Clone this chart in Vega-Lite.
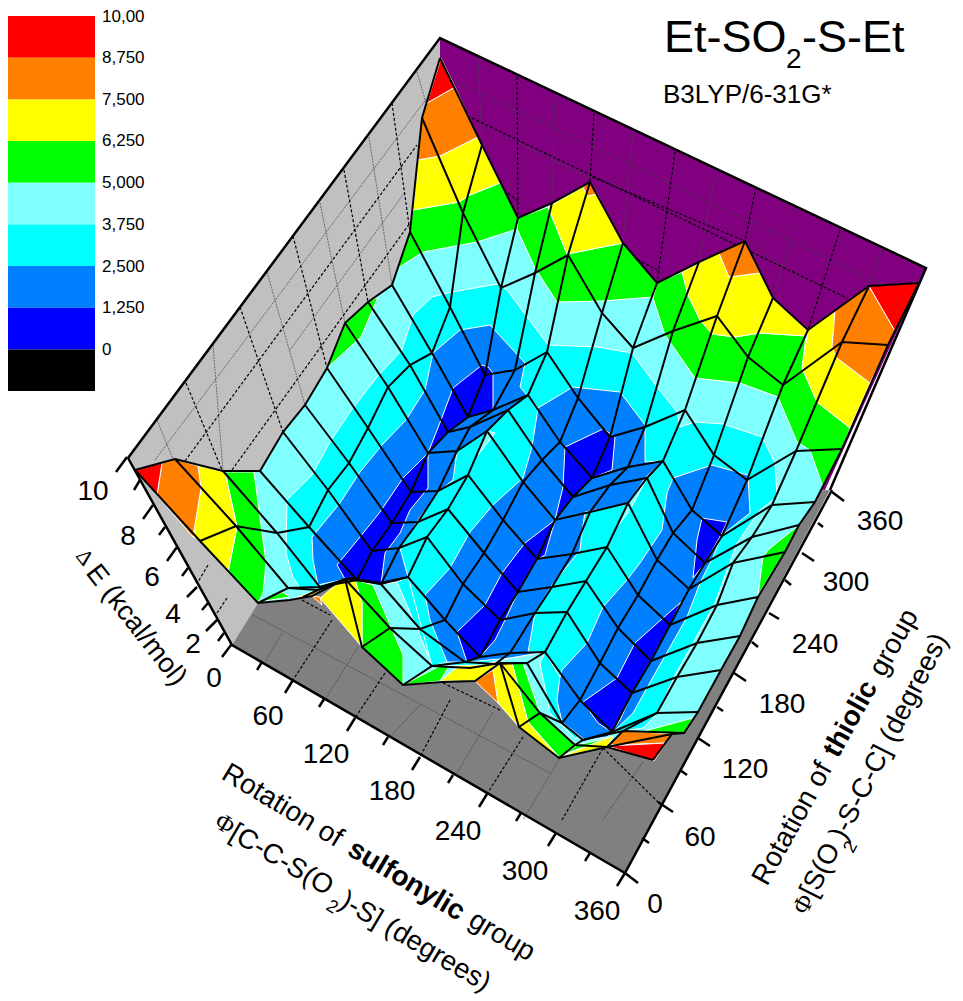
{"$schema":"https://vega.github.io/schema/vega-lite/v6.json","width":963,"height":1001,"padding":0,"autosize":{"type":"none"},"background":"white","config":{"view":{"stroke":null}},
"datasets":{
"walls":[
{"p":"left","b":"w1","x":[128,440,445,258,232],"y":[458,38,250,603,645]},
{"p":"back","b":"w2","x":[440,926,825,600,440],"y":[38,268,490,500,200]},
{"p":"floor","b":"w3","x":[232,625,830,600,258],"y":[645,873,490,500,603]}],
"dash":[
{"k":"a","x":[186,222],"y":[383,470]},{"k":"b","x":[240,283],"y":[307,432]},{"k":"c","x":[293,327],"y":[236,368]},{"k":"d","x":[344,368],"y":[170,302]},{"k":"e","x":[392,410],"y":[103,232]},
{"k":"f","x":[185,417],"y":[461,145]},{"k":"g","x":[232,410],"y":[470,223]},
{"k":"h","x":[517,518],"y":[77,218]},{"k":"i","x":[594,590],"y":[113,182]},{"k":"j","x":[675,657],"y":[152,283]},{"k":"l","x":[756,745],"y":[187,241]},{"k":"m","x":[840,808],"y":[230,330]},
{"k":"n","x":[472,847],"y":[118,298]},{"k":"o","x":[592,745],"y":[177,241]},{"k":"q","x":[508,520],"y":[193,203]},{"k":"r","x":[633,657],"y":[257,270]},
{"k":"s","x":[332,293],"y":[620,680]},{"k":"t","x":[385,355],"y":[673,718]},{"k":"u","x":[450,420],"y":[700,757]},{"k":"v","x":[523,487],"y":[737,794]},{"k":"w","x":[603,562],"y":[748,820]},{"k":"z","x":[302,330],"y":[600,615]},{"k":"aa","x":[443,500],"y":[683,710]},{"k":"ab","x":[603,658],"y":[748,802]},
{"k":"ac","x":[208,198],"y":[565,582]},{"k":"ad","x":[227,217],"y":[598,613]}],
"thin":[
{"k":"a","x":[157,173],"y":[420,459]},{"k":"b","x":[213,223],"y":[345,471]},{"k":"c","x":[267,305],"y":[272,405]},{"k":"d","x":[320,345],"y":[203,323]},{"k":"e","x":[369,392],"y":[137,285]},{"k":"f","x":[417,428],"y":[72,110]},{"k":"g","x":[155,427],"y":[460,98]},{"k":"h","x":[290,405],"y":[350,192]},
{"k":"i","x":[478,482],"y":[58,145]},{"k":"j","x":[555,552],"y":[95,203]},{"k":"l","x":[633,623],"y":[133,243]},{"k":"m","x":[715,699],"y":[175,262]},{"k":"n","x":[793,773],"y":[230,298]},{"k":"o","x":[882,869],"y":[248,286]},{"k":"q","x":[453,890],"y":[80,288]},{"k":"r","x":[518,590],"y":[143,178]},{"k":"s","x":[748,808],"y":[242,283]},
{"k":"t","x":[282,265],"y":[633,662]},{"k":"u","x":[358,323],"y":[647,703]},{"k":"v","x":[420,390],"y":[705,737]},{"k":"w","x":[493,457],"y":[712,773]},{"k":"z","x":[560,523],"y":[758,820]},{"k":"aa","x":[643,603],"y":[762,820]},{"k":"ab","x":[253,550],"y":[615,773]}],
"frame":[
{"k":"top","x":[128,440,926,830],"y":[458,38,268,490]},
{"k":"base","x":[128,232,625,832],"y":[458,645,873,490]}],
"ticks":[
{"x":127,"y":457,"x2":116,"y2":472},{"x":140,"y":480,"x2":134,"y2":490},{"x":153,"y":505,"x2":143,"y2":519},{"x":165,"y":527,"x2":159,"y2":535},{"x":177,"y":547,"x2":167,"y2":561},{"x":188,"y":568,"x2":182,"y2":576},{"x":197,"y":587,"x2":187,"y2":597},{"x":208,"y":603,"x2":202,"y2":610},{"x":217,"y":620,"x2":206,"y2":631},{"x":224,"y":633,"x2":218,"y2":641},{"x":231,"y":645,"x2":222,"y2":657},
{"x":262,"y":662,"x2":257,"y2":670},{"x":293,"y":680,"x2":285,"y2":693},{"x":324,"y":699,"x2":319,"y2":707},{"x":355,"y":718,"x2":347,"y2":731},{"x":388,"y":737,"x2":383,"y2":745},{"x":420,"y":757,"x2":412,"y2":770},{"x":453,"y":775,"x2":448,"y2":783},{"x":487,"y":794,"x2":479,"y2":807},{"x":521,"y":813,"x2":516,"y2":821},{"x":556,"y":833,"x2":548,"y2":846},{"x":590,"y":853,"x2":585,"y2":861},{"x":625,"y":873,"x2":617,"y2":886},
{"x":625,"y":873,"x2":638,"y2":883},{"x":642,"y":838,"x2":649,"y2":843},{"x":658,"y":802,"x2":673,"y2":812},{"x":680,"y":770,"x2":687,"y2":775},{"x":698,"y":738,"x2":710,"y2":746},{"x":717,"y":707,"x2":723,"y2":711},{"x":734,"y":673,"x2":746,"y2":681},{"x":752,"y":642,"x2":758,"y2":647},{"x":769,"y":613,"x2":779,"y2":619},{"x":785,"y":580,"x2":791,"y2":585},{"x":802,"y":553,"x2":814,"y2":561},{"x":818,"y":523,"x2":823,"y2":527},{"x":832,"y":492,"x2":844,"y2":501}],
"regions":[
{"p":"base","b":"b4","x":[135,175,223,260,283,305,327,345,368,392,410,422,440,482,518,552,590,623,657,699,745,773,808,869,919,888,842,815,799,785,758,740,721,698,684,672,653,607,559,519,500,475,442,403,362,345,312,290,258,200],"y":[470,459,471,471,432,405,368,323,302,285,232,118,58,145,218,203,182,243,283,262,241,298,330,286,283,345,449,502,525,552,597,636,670,712,733,734,760,747,758,727,663,681,682,685,647,579,596,600,603,541]},
{"p":"g1","b":"g","x":[413,459,470,500,518,517,477,423,398,410,413],"y":[210,202,195,183,218,229,242,252,268,232,210]},
{"p":"g2","b":"g","x":[518,548,567,623,657,653,602,557,535,517,518],"y":[218,207,254,243,284,297,301,302,268,229,218]},
{"p":"g3","b":"g","x":[657,682,688,700,712,735,760,806,802,817,850,842,823,810,797,778,740,695,665,653,657],"y":[283,272,295,320,334,337,333,336,368,402,428,449,487,450,442,397,383,378,335,298,283]},
{"p":"g5","b":"g","x":[799,768,763,758,785,799],"y":[525,550,557,595,552,525]},
{"p":"g6","b":"g","x":[645,693,684,668,645],"y":[731,718,733,733,731]},
{"p":"g7","b":"g","x":[345,327,361,378,368,345],"y":[323,368,337,297,302,323]},
{"p":"g8","b":"g","x":[355,373,403,403,362,362,355],"y":[580,585,655,685,647,603,580]},
{"p":"g9","b":"g","x":[225,254,266,263,258,228,237,225],"y":[472,472,563,593,603,572,527,472]},
{"p":"g10","b":"g","x":[258,283,290,258],"y":[602,592,597,602]},
{"p":"g11","b":"g","x":[403,438,450,440,403],"y":[685,667,665,681,685]},
{"p":"g12","b":"g","x":[512,523,540,577,560,528,512],"y":[663,663,713,745,758,722,663]},
{"p":"g13","b":"g","x":[560,577,612,570,560],"y":[757,745,737,752,757]},
{"p":"y1","b":"y","x":[418,440,478,500,470,459,413,418],"y":[160,156,137,183,195,202,210,160]},
{"p":"y2","b":"y","x":[548,583,587,597,623,567,548],"y":[207,187,196,194,243,254,207]},
{"p":"y3","b":"y","x":[682,719,729,760,773,807,806,760,735,712,700,688,682],"y":[272,253,277,273,298,330,336,333,337,334,320,295,272]},
{"p":"y4","b":"y","x":[808,835,832,837,870,850,817,802,808],"y":[330,311,347,358,383,428,402,368,330]},
{"p":"y5","b":"y","x":[198,225,237,228,200,193,201,198],"y":[466,472,527,572,540,537,488,466]},
{"p":"y6","b":"y","x":[343,355,362,362,320,343],"y":[579,580,603,647,598,579]},
{"p":"y7","b":"y","x":[292,325,312,292],"y":[599,587,596,599]},
{"p":"y8","b":"y","x":[440,460,499,475,440],"y":[681,665,662,681,681]},
{"p":"y9","b":"y","x":[500,512,528,559,519,498,493,500],"y":[662,663,722,758,727,703,670,662]},
{"p":"y10","b":"y","x":[560,613,607,560],"y":[757,736,747,757]},
{"p":"o1","b":"o","x":[427,455,478,440,418,422,427],"y":[103,87,137,156,160,118,103]},
{"p":"o2","b":"o","x":[583,590,597,587,583],"y":[187,182,194,196,187]},
{"p":"o3","b":"o","x":[719,745,760,729,719],"y":[253,241,273,277,253]},
{"p":"o4","b":"o","x":[835,869,895,870,837,832,835],"y":[311,286,331,383,358,347,311]},
{"p":"o5","b":"o","x":[162,175,198,201,193,157,162],"y":[463,459,466,488,537,495,463]},
{"p":"o6","b":"o","x":[312,320,322,312],"y":[596,597,605,596]},
{"p":"o7","b":"o","x":[475,493,498,475],"y":[681,670,703,681]},
{"p":"o8","b":"o","x":[623,672,666,608,623],"y":[731,734,743,745,731]},
{"p":"r1","b":"r","x":[441,455,427,441],"y":[58,87,103,58]},
{"p":"r2","b":"r","x":[869,919,895,869],"y":[286,283,331,286]},
{"p":"r3","b":"r","x":[135,162,157,135],"y":[470,463,495,470]},
{"p":"r4","b":"r","x":[608,666,654,608],"y":[746,743,761,746]},
{"p":"c","b":"b3","x":[287,312,330,350,377,402,413,432,452,498,507,527,548,597,632,657,677,680,695,723,762,775,777,760,737,730,715,693,675,658,643,623,612,590,575,550,540,545,500,480,433,397,381,345,325,300,293,286,287],"y":[500,475,442,412,377,350,315,297,292,284,290,317,345,347,353,387,412,427,422,424,437,463,497,510,543,562,603,643,675,713,728,731,732,738,738,713,663,652,660,665,666,582,584,579,587,588,577,553,500]},
{"p":"bl","b":"b2","x":[312,340,360,382,406,425,433,460,490,513,525,520,538,573,620,645,645,663,673,712,748,750,722,713,700,687,670,653,633,612,607,585,562,557,560,545,510,467,447,408,397,381,345,318,313,312],"y":[537,503,472,445,420,390,353,330,325,350,363,387,408,387,392,425,462,461,478,465,475,513,535,557,583,617,647,677,713,733,737,740,722,700,677,652,658,662,662,577,582,584,579,585,560,537]},
{"p":"i1","b":"b3","x":[528,538,532,523,493,470,450,425,430,447,432,408,400,420,438,453,457,487,508,528],"y":[395,408,447,478,505,532,568,595,620,662,666,577,548,517,492,480,451,431,410,395]},
{"p":"i2","b":"b3","x":[585,628,645,663,673,667,662,640,627,603,587,562,560,545,528,535,552,580,583,585],"y":[512,504,478,461,478,493,530,563,580,607,643,670,677,652,652,613,585,550,525,512]},
{"p":"l1","b":"b4","x":[487,495,478,487],"y":[431,433,455,431]},
{"p":"l2","b":"b4","x":[628,647,630,617,628],"y":[503,478,510,527,503]},
{"p":"d1","b":"b1","x":[337,360,380,403,428,428,410,400,385,381,345,337],"y":[565,537,512,478,453,488,510,533,553,584,579,565]},
{"p":"d2","b":"b1","x":[482,488,493,493,468,448,428,441,453,482],"y":[365,367,373,410,417,432,453,420,388,365]},
{"p":"d3","b":"b1","x":[565,603,615,612,592,573,555,563,565],"y":[447,429,437,470,478,497,520,487,447]},
{"p":"d4","b":"b1","x":[555,525,502,485,457,467,480,495,505,518,537,545,555],"y":[520,543,573,605,632,662,657,640,620,592,560,555,520]},
{"p":"d5","b":"b1","x":[583,617,635,663,681,670,650,632,620,612,598,583],"y":[702,678,643,618,602,625,662,693,720,732,723,702]},
{"p":"d6","b":"b1","x":[702,727,722,705,693,697,702],"y":[518,522,533,563,578,540,518]}],
"mesh":[
{"k":"s0","x":[135,175,223,260,283,305,327,345,368,392,410,422,440],"y":[470,459,471,471,432,405,368,323,302,285,232,118,58]},
{"k":"s30","x":[200,236,277,309,328,349,368,388,410,432,450,463,482],"y":[541,526,533,527,490,463,428,387,365,353,307,213,145]},
{"k":"s60","x":[258,288,320,357,372,392,411,428,448,468,485,501,518],"y":[603,588,587,580,551,523,492,453,432,417,375,288,218]},
{"k":"s90","x":[303,318,350,381,399,418,438,457,470,493,515,535,552],"y":[597,590,578,584,548,522,491,451,427,410,370,273,203]},
{"k":"s120","x":[345,380,408,427,448,468,487,508,528,547,568,590],"y":[579,583,577,537,509,475,431,410,395,352,255,182]},
{"k":"s150","x":[362,390,420,445,463,484,503,523,542,560,578,602,623],"y":[647,628,629,620,584,553,520,482,460,442,398,313,243]},
{"k":"s180","x":[403,432,465,480,500,518,537,555,573,592,610,633,657],"y":[685,666,662,657,620,592,559,520,497,478,437,348,283]},
{"k":"s210","x":[495,510,535,552,572,590,610,628,645,673,699],"y":[664,653,613,587,554,512,485,467,427,331,262]},
{"k":"s240","x":[500,527,545,567,586,607,628,647,663,685,717,745],"y":[663,663,652,612,581,547,503,478,461,410,316,241]},
{"k":"s270","x":[519,540,562,580,600,618,638,657,673,692,714,748,773],"y":[727,713,723,700,663,628,595,560,533,510,455,357,298]},
{"k":"s300","x":[559,575,583,612,632,651,670,689,705,722,747,783,808],"y":[758,745,740,732,693,661,625,589,563,536,480,385,330]},
{"k":"s330","x":[607,623,657,677,697,717,733,752,772,796,842,869],"y":[747,731,713,677,643,605,563,537,505,451,342,286]},
{"k":"s360","x":[653,672,684,698,721,740,758,785,799,815,842,888,919],"y":[760,734,733,712,670,636,597,552,525,502,449,345,283]},
{"k":"t0","x":[135,200,258,290,312,345,362,403,442,475,500,519,559,607,653],"y":[470,541,603,600,596,579,647,685,682,681,663,727,758,747,760]},
{"k":"t30","x":[175,236,288,318,345,390,432,470,500,540,575,607,672],"y":[459,526,588,590,579,628,666,668,663,713,745,747,734]},
{"k":"t60","x":[223,277,320,350,380,420,465,495,527,562,583,623,684],"y":[471,533,587,578,583,629,662,664,663,723,740,731,733]},
{"k":"t90","x":[260,309,357,381,408,445,480,510,545,580,612,657,698],"y":[471,527,580,584,577,620,657,653,652,700,732,713,712]},
{"k":"t120","x":[283,328,372,399,427,463,500,535,567,600,632,677,721],"y":[432,490,551,548,537,584,620,613,612,663,693,677,670]},
{"k":"t150","x":[305,349,392,418,448,484,518,552,586,618,651,697,740],"y":[405,463,523,522,509,553,592,587,581,628,661,643,636]},
{"k":"t180","x":[327,368,411,438,468,503,537,572,607,638,670,717,758],"y":[368,428,492,491,475,520,559,554,547,595,625,605,597]},
{"k":"t210","x":[345,388,428,457,487,523,555,590,628,657,689,733,785],"y":[323,387,453,451,431,482,520,512,503,560,589,563,552]},
{"k":"t240","x":[368,410,448,470,508,542,573,610,647,673,705,752,799],"y":[302,365,432,427,410,460,497,485,478,533,563,537,525]},
{"k":"t270","x":[392,432,468,493,528,560,592,628,663,692,722,772,815],"y":[285,353,417,410,395,442,478,467,461,510,536,505,502]},
{"k":"t300","x":[410,450,485,515,547,578,610,645,685,714,747,796,842],"y":[232,307,375,370,352,398,437,427,410,455,480,451,449]},
{"k":"t330","x":[422,463,501,535,568,602,633,673,717,748,783,842,888],"y":[118,213,288,273,255,313,348,331,316,357,385,342,345]},
{"k":"t360","x":[440,482,518,552,590,623,657,699,745,773,808,869,919],"y":[58,145,218,203,182,243,283,262,241,298,330,286,283]}],
"legend":[
{"b":"r","x":8,"x2":95,"y":16,"y2":57.7},{"b":"o","x":8,"x2":95,"y":57.7,"y2":99.4},{"b":"y","x":8,"x2":95,"y":99.4,"y2":141},{"b":"g","x":8,"x2":95,"y":141,"y2":182.8},{"b":"b4","x":8,"x2":95,"y":182.8,"y2":224.5},{"b":"b3","x":8,"x2":95,"y":224.5,"y2":266},{"b":"b2","x":8,"x2":95,"y":266,"y2":307.8},{"b":"b1","x":8,"x2":95,"y":307.8,"y2":349.6},{"b":"k","x":8,"x2":95,"y":349.6,"y2":391}]
},
"encoding":{"x":{"field":"x","type":"quantitative","scale":{"domain":[0,963],"nice":false,"zero":false},"axis":null},"y":{"field":"y","type":"quantitative","scale":{"domain":[1001,0],"nice":false,"zero":false},"axis":null}},
"layer":[
{"data":{"name":"walls"},"transform":[{"flatten":["x","y"]}],"mark":{"type":"line","filled":true,"clip":false,"strokeWidth":0},"encoding":{"order":{"value":null},"detail":{"field":"p"},"color":{"field":"b","type":"nominal","legend":null,"scale":{"domain":["k","b1","b2","b3","b4","g","y","o","r","w1","w2","w3"],"range":["#000000","#0000FF","#0080FF","#00FFFF","#80FFFF","#00FF00","#FFFF00","#FF8000","#FF0000","#C0C0C0","#800080","#808080"]}}}},
{"data":{"name":"thin"},"transform":[{"flatten":["x","y"]}],"mark":{"type":"line","stroke":"#444444","strokeWidth":0.7,"strokeDash":[2,1]},"encoding":{"order":{"value":null},"detail":{"field":"k"}}},
{"data":{"name":"dash"},"transform":[{"flatten":["x","y"]}],"mark":{"type":"line","stroke":"#000000","strokeWidth":1.2,"strokeDash":[3,2]},"encoding":{"order":{"value":null},"detail":{"field":"k"}}},
{"data":{"name":"frame"},"transform":[{"flatten":["x","y"]}],"mark":{"type":"line","stroke":"#000000","strokeWidth":2.5},"encoding":{"order":{"value":null},"detail":{"field":"k"}}},
{"data":{"name":"ticks"},"mark":{"type":"rule","stroke":"#000000","strokeWidth":2.5},"encoding":{"x2":{"field":"x2"},"y2":{"field":"y2"}}},
{"data":{"name":"regions"},"transform":[{"flatten":["x","y"]}],"mark":{"type":"line","filled":true,"stroke":"white","strokeWidth":1},"encoding":{"order":{"value":null},"detail":{"field":"p"},"color":{"field":"b","type":"nominal","legend":null}}},
{"data":{"name":"mesh"},"transform":[{"flatten":["x","y"]}],"mark":{"type":"line","stroke":"#000000","strokeWidth":2},"encoding":{"order":{"value":null},"detail":{"field":"k"}}},
{"data":{"name":"legend"},"mark":{"type":"rect"},"encoding":{"x2":{"field":"x2"},"y2":{"field":"y2"},"color":{"field":"b","type":"nominal","legend":null}}},
{"data":{"values":[{"x":102,"y":17,"t":"10,00"},{"x":102,"y":58,"t":"8,750"},{"x":102,"y":100,"t":"7,500"},{"x":102,"y":141,"t":"6,250"},{"x":102,"y":183,"t":"5,000"},{"x":102,"y":225,"t":"3,750"},{"x":102,"y":267,"t":"2,500"},{"x":102,"y":308,"t":"1,250"},{"x":102,"y":350,"t":"0"}]},"mark":{"type":"text","font":"Liberation Sans","fontSize":17,"align":"left","baseline":"middle","color":"black"},"encoding":{"text":{"field":"t"}}},
{"data":{"values":[{"x":93,"y":492,"t":"10"},{"x":128,"y":537,"t":"8"},{"x":152,"y":578,"t":"6"},{"x":173,"y":615,"t":"4"},{"x":193,"y":645,"t":"2"},{"x":214,"y":679,"t":"0"},{"x":268,"y":717,"t":"60"},{"x":326,"y":755,"t":"120"},{"x":392,"y":792,"t":"180"},{"x":458,"y":832,"t":"240"},{"x":525,"y":872,"t":"300"},{"x":597,"y":912,"t":"360"},{"x":655,"y":905,"t":"0"},{"x":700,"y":838,"t":"60"},{"x":745,"y":770,"t":"120"},{"x":782,"y":705,"t":"180"},{"x":815,"y":645,"t":"240"},{"x":846,"y":583,"t":"300"},{"x":880,"y":522,"t":"360"}]},"mark":{"type":"text","font":"Liberation Sans","fontSize":28,"align":"center","baseline":"middle","color":"black"},"encoding":{"text":{"field":"t"}}},
{"data":{"values":[{"x":664,"y":52,"t":"Et-SO"},{"x":802,"y":52,"t":"-S-Et"}]},"mark":{"type":"text","font":"Liberation Sans","fontSize":45,"align":"left","baseline":"alphabetic","color":"black"},"encoding":{"text":{"field":"t"}}},
{"data":{"values":[{"x":786,"y":68,"t":"2"}]},"mark":{"type":"text","font":"Liberation Sans","fontSize":28,"align":"left","baseline":"alphabetic","color":"black"},"encoding":{"text":{"field":"t"}}},
{"data":{"values":[{"x":663,"y":103,"t":"B3LYP/6-31G*"}]},"mark":{"type":"text","font":"Liberation Sans","fontSize":26,"align":"left","baseline":"alphabetic","color":"black"},"encoding":{"text":{"field":"t"}}},
{"data":{"values":[{"x":220,"y":778,"t":"Rotation of"},{"x":467,"y":925,"t":"group"}]},"mark":{"type":"text","font":"Liberation Sans","fontSize":28,"align":"left","baseline":"alphabetic","angle":31,"color":"black"},"encoding":{"text":{"field":"t"}}},
{"data":{"values":[{"x":346,"y":854,"t":"sulfonylic"}]},"mark":{"type":"text","font":"Liberation Sans","fontSize":28,"fontWeight":"bold","align":"left","baseline":"alphabetic","angle":31,"color":"black"},"encoding":{"text":{"field":"t"}}},
{"data":{"values":[{"x":228,"y":838,"t":"[C-C-S(O"},{"x":338,"y":906,"t":")-S] (degrees)"}]},"mark":{"type":"text","font":"Liberation Sans","fontSize":27.5,"align":"left","baseline":"alphabetic","angle":30.5,"color":"black"},"encoding":{"text":{"field":"t"}}},
{"data":{"values":[{"x":213,"y":826,"t":"Φ"}]},"mark":{"type":"text","font":"Liberation Serif","fontSize":25,"align":"left","baseline":"alphabetic","angle":31,"color":"black"},"encoding":{"text":{"field":"t"}}},
{"data":{"values":[{"x":325,"y":909,"t":"2"}]},"mark":{"type":"text","font":"Liberation Sans","fontSize":18,"align":"left","baseline":"alphabetic","angle":31,"color":"black"},"encoding":{"text":{"field":"t"}}},
{"data":{"values":[{"x":767,"y":887,"t":"Rotation of"},{"x":884,"y":678,"t":"group"}]},"mark":{"type":"text","font":"Liberation Sans","fontSize":28,"align":"left","baseline":"alphabetic","angle":-61,"color":"black"},"encoding":{"text":{"field":"t"}}},
{"data":{"values":[{"x":838,"y":759,"t":"thiolic"}]},"mark":{"type":"text","font":"Liberation Sans","fontSize":28,"fontWeight":"bold","align":"left","baseline":"alphabetic","angle":-61,"color":"black"},"encoding":{"text":{"field":"t"}}},
{"data":{"values":[{"x":815,"y":899,"t":"[S(O"},{"x":845,"y":842,"t":")-S-C-C] (degrees)"}]},"mark":{"type":"text","font":"Liberation Sans","fontSize":27.5,"align":"left","baseline":"alphabetic","angle":-63,"color":"black"},"encoding":{"text":{"field":"t"}}},
{"data":{"values":[{"x":806,"y":916,"t":"Φ"}]},"mark":{"type":"text","font":"Liberation Serif","fontSize":25,"align":"left","baseline":"alphabetic","angle":-62,"color":"black"},"encoding":{"text":{"field":"t"}}},
{"data":{"values":[{"x":853,"y":854,"t":"2"}]},"mark":{"type":"text","font":"Liberation Sans","fontSize":18,"align":"left","baseline":"alphabetic","angle":-62,"color":"black"},"encoding":{"text":{"field":"t"}}},
{"data":{"values":[{"x":85,"y":573,"t":"E (kcal/mol)"}]},"mark":{"type":"text","font":"Liberation Sans","fontSize":27.5,"align":"left","baseline":"alphabetic","angle":52,"color":"black"},"encoding":{"text":{"field":"t"}}},
{"data":{"values":[{"x":75,"y":556,"t":"Δ"}]},"mark":{"type":"text","font":"Liberation Serif","fontSize":22,"align":"left","baseline":"alphabetic","angle":52,"color":"black"},"encoding":{"text":{"field":"t"}}}
]}
